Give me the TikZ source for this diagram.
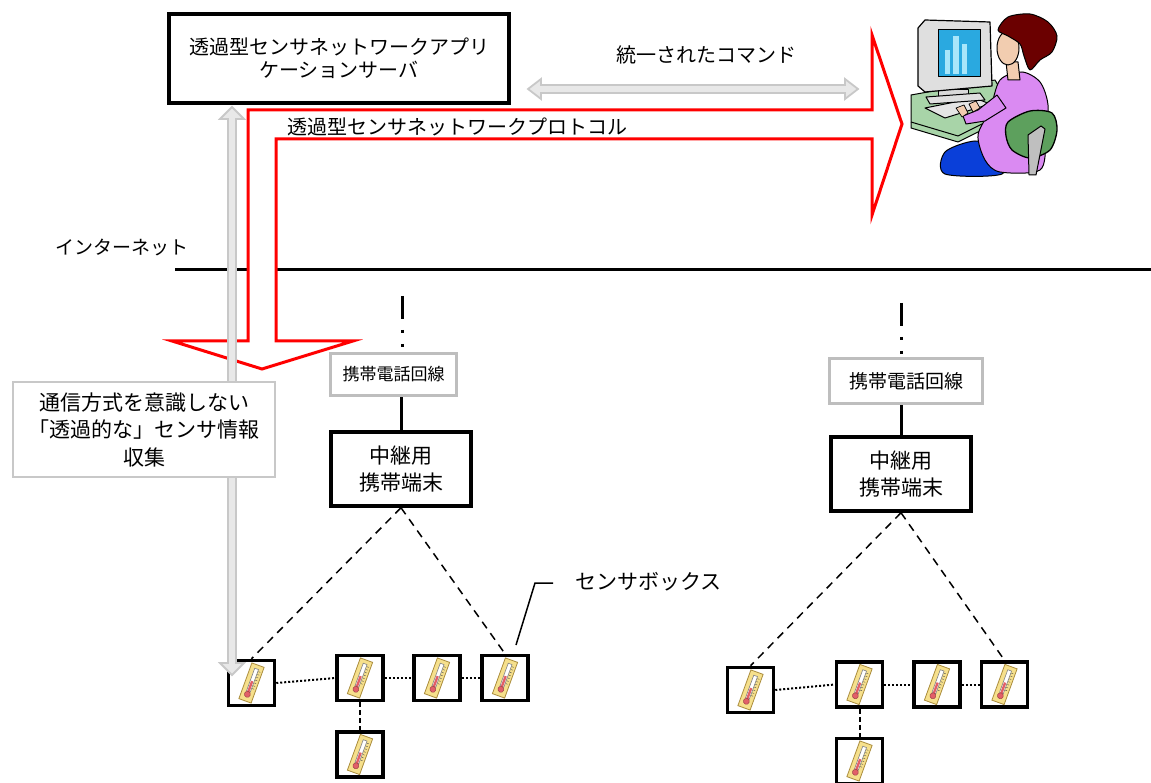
\documentclass[tikz,border=0pt]{standalone}
\usepackage{fontspec}
\setmainfont{Noto Sans CJK JP}
\usepackage{tikz}
\usetikzlibrary{arrows}

\definecolor{boxgray}{RGB}{190,190,190}
\definecolor{notegray}{RGB}{200,200,200}
\definecolor{arrowgray}{RGB}{200,200,200}
\definecolor{arrowfill}{RGB}{232,232,232}
\definecolor{cardyellow}{RGB}{246,224,140}
\definecolor{cardedge}{RGB}{170,140,60}
\definecolor{thermred}{RGB}{226,96,104}
\definecolor{screenblue}{RGB}{42,169,224}
\definecolor{barblue}{RGB}{168,230,250}
\definecolor{deskgreen}{RGB}{168,212,168}
\definecolor{hairred}{RGB}{107,0,0}
\definecolor{skin}{RGB}{242,205,176}
\definecolor{shirt}{RGB}{218,138,242}
\definecolor{pants}{RGB}{10,63,217}
\definecolor{chairgreen}{RGB}{93,160,93}

% thermometer card inside a sensor box
\tikzset{thermo/.pic={
  \begin{scope}[rotate=-20]
    \filldraw[fill=cardyellow,draw=cardedge,line width=0.8pt] (-6.5,-19) rectangle (6.5,19);
    \filldraw[fill=white,draw=gray,line width=0.6pt] (-2,-15) rectangle (2,9);
    \fill[thermred] (-1.2,-2) rectangle (1.2,10);
    \filldraw[fill=thermred,draw=thermred!70!black,line width=0.5pt] (0,12) circle (3);
    \foreach \t in {-13,-10,...,5}
      \draw[gray!60!black,line width=0.4pt] (2.6,\t) -- (4.6,\t);
  \end{scope}
}}

\begin{document}
\begin{tikzpicture}[x=1pt,y=-1pt,
    server/.style={draw,line width=3.5pt,minimum width=340pt,minimum height=89pt,
      align=center,font=\fontsize{20}{23}\selectfont},
    relay/.style={draw,line width=3.5pt,minimum width=140pt,minimum height=74pt,
      align=center,font=\fontsize{21}{27}\selectfont},
    linebox/.style={draw=boxgray,line width=3pt,inner sep=0pt},
    sensor/.style={draw,line width=3.5pt,minimum width=46pt,minimum height=45pt,inner sep=0pt},
    netlink/.style={line width=3pt,dash pattern=on 23pt off 11pt on 3.5pt off 10.5pt on 3.5pt off 20pt},
    radio/.style={line width=1.5pt,dash pattern=on 8pt off 6pt},
    short/.style={line width=2pt,dash pattern=on 2pt off 2pt},
    wired/.style={line width=2pt,dash pattern=on 5pt off 3pt},
    blockarrow/.style={fill=arrowfill,draw=arrowgray,line width=1.8pt,line join=miter}]

\useasboundingbox (0,0) rectangle (1151,783);

    % internet backbone
    \node[anchor=west,font=\fontsize{19}{22}\selectfont] (netlabel) at (52,247) {インターネット};
    \draw[line width=3pt] (175,270) -- (1151,270);

    % protocol arrow
    \filldraw[fill=white,draw=red,line width=3pt,line join=miter]
      (276,139) -- (872,139) -- (872,215) -- (902,124) -- (872,35) -- (872,110)
      -- (248,110) -- (248,341) -- (172,341) -- (262,369) -- (353,341) -- (276,341) -- cycle;
    \node[font=\fontsize{20}{23}\selectfont] (protolabel) at (457,127) {透過型センサネットワークプロトコル};

    % command arrow
    \draw[blockarrow] (528,89) -- (541,79) -- (541,85) -- (845,85) -- (845,79) -- (858,89)
      -- (845,99) -- (845,93) -- (541,93) -- (541,99) -- cycle;
    \node[font=\fontsize{20}{23}\selectfont] (cmdlabel) at (706,55) {統一されたコマンド};

    \node[server,fill=white] (server) at (339,58.5) {透過型センサネットワークアプリ\\ケーションサーバ};

    % left relay
    \node[linebox,minimum width=126pt,minimum height=42pt,font=\fontsize{17}{20}\selectfont]
      (lineL) at (393.5,374.5) {携帯電話回線};
    \node[relay] (relayL) at (401,469) {中継用\\携帯端末};
    \coordinate (netL) at (402,296);
    \draw[netlink] (netL) -- (netL |- lineL.north);
    \draw[line width=3pt] (relayL.north |- lineL.south) -- (relayL.north);

    % right relay
    \node[linebox,minimum width=153pt,minimum height=45pt,font=\fontsize{19}{22}\selectfont]
      (lineR) at (906,381) {携帯電話回線};
    \node[relay] (relayR) at (901,474) {中継用\\携帯端末};
    \coordinate (netR) at (901,303);
    \draw[netlink] (netR) -- (netR |- lineR.north);
    \draw[line width=3pt] (relayR.north |- lineR.south) -- (relayR.north);

    % sensor boxes
    \node[sensor] (s1) at (251.5,683) {};
    \node[sensor] (s2) at (360,678) {};
    \node[sensor] (s3) at (437,678) {};
    \node[sensor] (s4) at (505,678) {};
    \node[sensor] (s5) at (360,754.5) {};
    \node[sensor] (r1) at (750.5,690) {};
    \node[sensor] (r2) at (859.5,684.5) {};
    \node[sensor] (r3) at (937,684.5) {};
    \node[sensor] (r4) at (1004.5,684.5) {};
    \node[sensor] (r5) at (859.5,761) {};
    \foreach \s in {s1,s2,s3,s4,s5,r1,r2,r3,r4,r5}
      \pic at (\s) {thermo};

    \draw[radio] (relayL.south) -- (s1.north);
    \draw[radio] (relayL.south) -- (s4.north);
    \draw[radio] (relayR.south) -- (r1.north);
    \draw[radio] (relayR.south) -- (r4.north);

    \draw[short] (s1.east) -- (s2.west);
    \draw[short] (s2.east) -- (s3.west);
    \draw[short] (s3.east) -- (s4.west);
    \draw[wired] (s2.south) -- (s5.north);
    \draw[short] (r1.east) -- (r2.west);
    \draw[short] (r2.east) -- (r3.west);
    \draw[short] (r3.east) -- (r4.west);
    \draw[wired] (r2.south) -- (r5.north);

    % server to sensors, both ways
    \draw[blockarrow] (232,107) -- (244,119) -- (236,119) -- (236,663) -- (244,663)
      -- (232,675) -- (220,663) -- (228,663) -- (228,119) -- (220,119) -- cycle;

    \node[draw=notegray,line width=2pt,fill=white,minimum width=262pt,minimum height=95pt,
      align=center,font=\fontsize{21}{27.5}\selectfont] (note) at (144,429.5)
      {通信方式を意識しない\\「透過的な」センサ情報\\収集};

    % callout
    \node[anchor=west,font=\fontsize{21}{24}\selectfont] (boxlabel) at (572,582) {センサボックス};
    \coordinate (callout) at (516,645);
    \draw[line width=1.5pt] (callout) -- (535,583) -- (553,583);

    % user at the terminal
    \begin{scope}[line width=1pt,line join=round]
      \filldraw[fill=deskgreen,draw=black] (911,95) -- (995,80) -- (1002,92) -- (1002,120)
        -- (958,142) -- (911,128) -- cycle;
      \draw (911,122) -- (958,136) -- (1002,114);
      \filldraw[fill=gray!20,draw=black] (925,108) -- (975,98) -- (990,104) -- (945,118) -- cycle;
      \filldraw[fill=gray!30,draw=black] (938,90) rectangle (968,99);
      \filldraw[fill=gray!25,draw=black] (926,97) -- (980,93) -- (985,100) -- (930,104) -- cycle;
      \filldraw[fill=gray!25,draw=black,line width=1.2pt] (918,28) -- (925,20) -- (990,22)
        -- (992,86) -- (925,92) -- (918,86) -- cycle;
      \filldraw[fill=screenblue,draw=black] (938,30) rectangle (980,77);
      \fill[barblue] (945,50) rectangle (950,74);
      \fill[barblue] (953,36) rectangle (959,74);
      \fill[barblue] (962,44) rectangle (967,74);
      \filldraw[fill=pants,draw=black] plot[smooth cycle] coordinates
        {(945,152) (975,141) (1000,150) (1002,174) (945,174)};
      \filldraw[fill=shirt,draw=black] plot[smooth cycle] coordinates
        {(1000,80) (1022,72) (1040,82) (1048,105) (1046,140) (1040,170) (1000,172)
         (985,160) (978,135) (990,110)};
      \filldraw[fill=shirt,draw=black] (997,95) -- (978,110) -- (963,116) -- (966,124)
        -- (985,121) -- (1006,108) -- cycle;
      \filldraw[fill=skin,draw=black,line width=0.7pt] (956,108) -- (964,105) -- (968,113)
        -- (962,117) -- cycle;
      \filldraw[fill=skin,draw=black,line width=0.7pt] (969,104) -- (976,101) -- (980,108)
        -- (973,112) -- cycle;
      \filldraw[fill=skin,draw=black] (1006,62) -- (1018,62) -- (1020,80) -- (1008,80) -- cycle;
      \filldraw[fill=skin,draw=black] (1008,48) ellipse (11 and 17);
      \filldraw[fill=hairred,draw=black] plot[smooth cycle] coordinates
        {(998,30) (1008,17) (1030,14) (1048,22) (1057,36) (1052,52) (1040,60) (1030,70)
         (1024,56) (1020,44) (1008,36)};
      \filldraw[fill=chairgreen,draw=black,line width=1.3pt] plot[smooth cycle] coordinates
        {(1008,122) (1030,111) (1052,113) (1057,130) (1050,150) (1030,158) (1012,150) (1006,136)};
      \filldraw[fill=gray!50,draw=black] (1028,135) -- (1041,126) -- (1045,129) -- (1036,175)
        -- (1029,175) -- cycle;
    \end{scope}

\end{tikzpicture}
\end{document}
